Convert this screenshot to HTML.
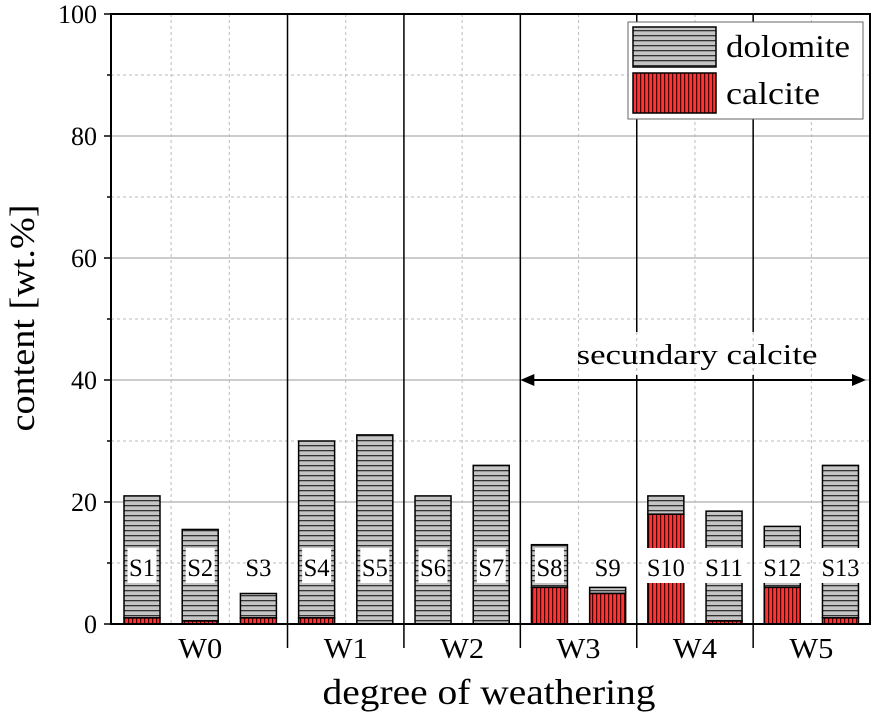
<!DOCTYPE html>
<html><head><meta charset="utf-8"><style>
body{margin:0;background:#fff}
svg{display:block;font-family:"Liberation Serif",serif}
</style></head><body>
<svg id="c" width="873" height="722">
<defs>
<pattern id="dolo" width="8" height="5" patternUnits="userSpaceOnUse"><rect width="8" height="5" fill="#c4c4c4"/><rect y="0" width="8" height="1.3" fill="#333"/></pattern>
<pattern id="calc" width="4" height="8" patternUnits="userSpaceOnUse"><rect width="4" height="8" fill="#f33"/><rect x="0" width="1.2" height="8" fill="#400"/></pattern>
</defs>
</svg>
<script>
const samples=["S1","S2","S3","S4","S5","S6","S7","S8","S9","S10","S11","S12","S13"];
const totals=[21,15.5,5,30,31,21,26,13,6,21,18.5,16,26];
const calcite=[1,0.5,1,1,0,0,0,6,5,18,0.5,6,1];
const groups=["W0","W1","W2","W3","W4","W5"];
const groupStart=[0,3,5,7,9,11];
const groupEnd=[3,5,7,9,11,13];
const yTicks=[0,20,40,60,80,100];
const svg=document.getElementById('c');const NS="http://www.w3.org/2000/svg";
const L=111,R=870,T=14,B=624,step=(R-L)/13.04,bw=36;
const y=v=>B-(B-T)*v/100;
const xc=i=>L+31+i*step;
function el(t,a,p){const e=document.createElementNS(NS,t);for(const k in a)e.setAttribute(k,a[k]);(p||svg).appendChild(e);return e;}
// grids
for(let v=10;v<100;v+=20){const g=el('line',{x1:L,x2:R,y1:y(v),y2:y(v),stroke:'#bbb','stroke-dasharray':'3,3'});

}
for(let v=20;v<100;v+=20){const g=el('line',{x1:L,x2:R,y1:y(v),y2:y(v),stroke:'#999'});

}
for(let i=0;i<12;i++){const b=(xc(i)+xc(i+1))/2;const g=el('line',{x1:b,x2:b,y1:T,y2:B,stroke:'#bbb','stroke-dasharray':'3,3'});

}
// group separators
groupEnd.slice(0,-1).forEach((e,k)=>{const b=(xc(e-1)+xc(e))/2;
 if(k>=3){
  const s1=el('line',{x1:b,x2:b,y1:T,y2:332,stroke:'#000','stroke-width':1.5});
  
  
  const s2=el('line',{x1:b,x2:b,y1:375,y2:B+24,stroke:'#000','stroke-width':1.5});
  
  
 } else {
  const s=el('line',{x1:b,x2:b,y1:T,y2:B+24,stroke:'#000','stroke-width':1.5});
  
  
 }});
// bars
samples.forEach((s,i)=>{
 const x=xc(i)-bw/2,dol=totals[i]-calcite[i];
 if(dol>0){const r=el('rect',{x:x,y:y(totals[i]),width:bw,height:y(calcite[i])-y(totals[i]),fill:'url(#dolo)',stroke:'#000','stroke-width':1.5});
 
 }
 if(calcite[i]>0){const r=el('rect',{x:x,y:y(calcite[i]),width:bw,height:B-y(calcite[i]),fill:'url(#calc)',stroke:'#000','stroke-width':1.5});
 
 }
 const w=s.length>2?40:29;
 if(totals[i]>10){const bg=el('rect',{x:xc(i)-w/2,y:548,width:w,height:35,fill:'#fff'});
 
 }
 const t=el('text',{x:xc(i),y:576,'text-anchor':'middle','font-size':25,textLength:s.length>2?38:26,lengthAdjust:'spacingAndGlyphs'});t.textContent=s;
 
 
});
// frame
const f=el('rect',{x:L,y:T,width:R-L,height:B-T,fill:'none',stroke:'#000','stroke-width':2});


// y ticks
yTicks.forEach(v=>{const tk=el('line',{x1:L-7,x2:L,y1:y(v),y2:y(v),stroke:'#000','stroke-width':1.5});


const t=el('text',{x:L-14,y:y(v)+9,'text-anchor':'end','font-size':26});t.textContent=v;

});
for(let v=10;v<100;v+=20){const tk=el('line',{x1:L-4,x2:L,y1:y(v),y2:y(v),stroke:'#000','stroke-width':1.5});

}
// group labels
groups.forEach((g,j)=>{const cx=(xc(groupStart[j])+xc(groupEnd[j]-1))/2;const t=el('text',{x:cx,y:658,'text-anchor':'middle','font-size':28,textLength:44,lengthAdjust:'spacingAndGlyphs'});t.textContent=g;

});
// titles
const xt=el('text',{x:489,y:704,'text-anchor':'middle','font-size':36,textLength:333,lengthAdjust:'spacingAndGlyphs'});xt.textContent='degree of weathering';


const yt=el('text',{x:0,y:0,'text-anchor':'middle','font-size':35,textLength:227,lengthAdjust:'spacingAndGlyphs',transform:'translate(34,318) rotate(-90)'});yt.textContent='content [wt.%]';


// arrow
const ax1=(xc(6)+xc(7))/2,ax2=R-4;
const ar=el('line',{x1:ax1+10,x2:ax2-10,y1:y(40),y2:y(40),stroke:'#000','stroke-width':2});


el('path',{d:`M${ax1} ${y(40)} l14 -6 v12 z M${ax2} ${y(40)} l-14 -6 v12 z`,fill:'#000'});
const at=el('text',{x:697,y:364,'text-anchor':'middle','font-size':28,textLength:241,lengthAdjust:'spacingAndGlyphs'});at.textContent='secundary calcite';


// legend
const lg=el('g',{});


el('rect',{x:628,y:22,width:235,height:97,fill:'#fff',stroke:'#666','stroke-width':1},lg);
el('rect',{x:633,y:27,width:83,height:40,fill:'url(#dolo)',stroke:'#000','stroke-width':1.5},lg);
el('rect',{x:633,y:73,width:83,height:40,fill:'url(#calc)',stroke:'#000','stroke-width':1.5},lg);
const l1=el('text',{x:726,y:57,'font-size':32,textLength:124,lengthAdjust:'spacingAndGlyphs'},lg);l1.textContent='dolomite';


const l2=el('text',{x:726,y:104,'font-size':32,textLength:94,lengthAdjust:'spacingAndGlyphs'},lg);l2.textContent='calcite';


</script>
</body></html>
